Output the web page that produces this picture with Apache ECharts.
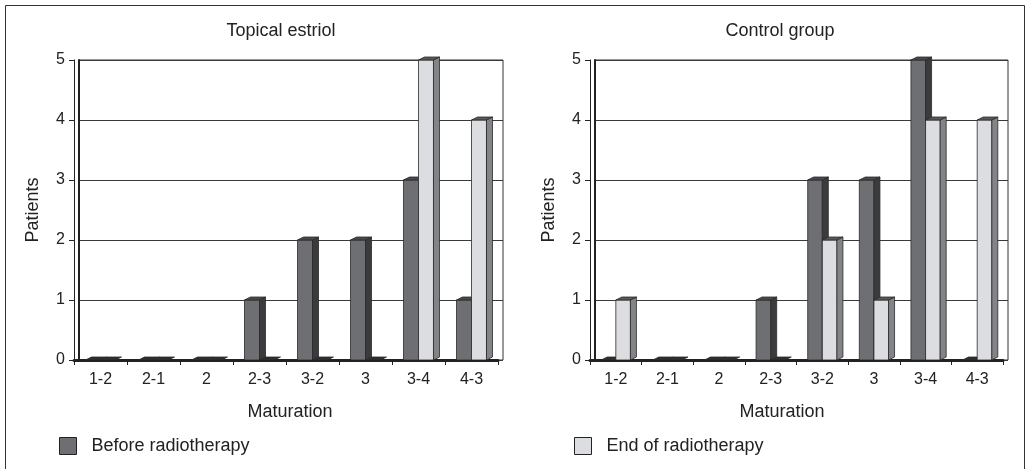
<!DOCTYPE html>
<html>
<head>
<meta charset="utf-8">
<title>Maturation before and after radiotherapy</title>
<script src="https://cdn.jsdelivr.net/npm/echarts@6/dist/echarts.min.js"></script>
<style>
  html, body { margin: 0; padding: 0; background: #fff; }
  #chart { width: 1030px; height: 469px; }
</style>
</head>
<body>
<div id="chart"></div>
<script>
// Maturation categories shared by both panels
const maturation = ['1-2', '2-1', '2', '2-3', '3-2', '3', '3-4', '4-3'];

// Topical estriol panel
const estriolBefore = [0, 0, 0, 1, 2, 2, 3, 1];
const estriolEnd    = [0, 0, 0, 0, 0, 0, 5, 4];

// Control group panel
const controlBefore = [0, 0, 0, 1, 3, 3, 5, 0];
const controlEnd    = [1, 0, 0, 0, 2, 1, 4, 4];

const yTicks = { min: 0, max: 5, interval: 1 };

const FONT = 'Liberation Sans, Arial, sans-serif';
const INK = '#222';

const BEFORE = { front: '#6e6f73', side: '#3b3b3d', top: '#4a4a4c' };
const END    = { front: '#dcdde0', side: '#838487', top: '#5a5a5c' };

// Excel-style 3D column: front face, right side face and top face
function column(colors, leftOfCenter) {
  return function (params, api) {
    const idx = api.value(0);
    const v = api.value(1);
    const p = api.coord([idx, v]);
    const base = api.coord([idx, 0]);
    const cw = api.size([1, 0])[0];
    const w = cw * 0.283;
    const dx = 6, dy = 3;
    const x0 = leftOfCenter ? p[0] - w : p[0];
    const y = p[1], y0 = base[1];
    const stroke = { stroke: '#2a2a2a', lineWidth: 0.8 };
    const children = [];
    if (v > 0) {
      children.push({
        type: 'rect',
        shape: { x: x0, y: y, width: w, height: y0 - y },
        style: Object.assign({ fill: colors.front }, stroke)
      });
      children.push({
        type: 'polygon',
        shape: { points: [[x0 + w, y], [x0 + w + dx, y - dy], [x0 + w + dx, y0 - dy], [x0 + w, y0]] },
        style: Object.assign({ fill: colors.side }, stroke)
      });
    }
    // a zero-height column shows only its flat top, which reads as part of the floor
    children.push({
      type: 'polygon',
      shape: { points: [[x0, y], [x0 + dx, y - dy], [x0 + w + dx, y - dy], [x0 + w, y]] },
      style: Object.assign({ fill: v > 0 ? colors.top : '#2e2e2e' }, stroke)
    });
    return { type: 'group', children: children };
  };
}

function pairs(values) {
  return values.map(function (v, i) { return [i, v]; });
}

// Panel geometry: front axes grid and the back wall shifted by the depth
const panels = [
  { left: 74, width: 424, before: estriolBefore, end: estriolEnd },
  { left: 590, width: 413, before: controlBefore, end: controlEnd }
];
const TOP = 60, BOTTOM = 469 - 360, DEPTH = 5;

const grid = [], xAxis = [], yAxis = [], series = [];
panels.forEach(function (pn, k) {
  // back wall
  grid.push({
    left: pn.left + DEPTH, top: TOP, width: pn.width, bottom: BOTTOM,
    show: true, borderColor: '#333', borderWidth: 1, backgroundColor: 'transparent'
  });
  xAxis.push({ gridIndex: 2 * k, type: 'value', min: 0, max: 1, show: false });
  yAxis.push({
    gridIndex: 2 * k, type: 'value', min: yTicks.min, max: yTicks.max, interval: yTicks.interval,
    axisLine: { show: true, lineStyle: { color: '#222', width: 2 } },
    axisTick: { show: false }, axisLabel: { show: false },
    splitLine: { show: true, lineStyle: { color: '#3a3a3a', width: 1 } }
  });
  // front axes
  grid.push({ left: pn.left, top: TOP, width: pn.width, bottom: BOTTOM });
  xAxis.push({
    gridIndex: 2 * k + 1, type: 'category', data: maturation, boundaryGap: true,
    axisLine: { show: true, lineStyle: { color: INK, width: 3 } },
    axisTick: { show: true, length: 5, alignWithLabel: false, lineStyle: { color: INK } },
    axisLabel: { color: INK, fontFamily: FONT, fontSize: 16, margin: 12, interval: 0 },
    splitLine: { show: false }
  });
  yAxis.push({
    gridIndex: 2 * k + 1, type: 'value', min: yTicks.min, max: yTicks.max, interval: yTicks.interval,
    name: 'Patients', nameLocation: 'middle', nameGap: 32,
    nameTextStyle: { color: INK, fontFamily: FONT, fontSize: 18 },
    axisLine: { show: true, lineStyle: { color: INK, width: 1 } },
    axisTick: { show: true, length: 5, lineStyle: { color: INK } },
    axisLabel: { color: INK, fontFamily: FONT, fontSize: 16, margin: 9 },
    splitLine: { show: false }
  });
  series.push({
    name: 'Before radiotherapy', type: 'custom',
    xAxisIndex: 2 * k + 1, yAxisIndex: 2 * k + 1,
    itemStyle: { color: BEFORE.front },
    encode: { x: 0, y: 1 },
    renderItem: column(BEFORE, true),
    data: pairs(pn.before)
  });
  series.push({
    name: 'End of radiotherapy', type: 'custom',
    xAxisIndex: 2 * k + 1, yAxisIndex: 2 * k + 1,
    itemStyle: { color: END.front },
    encode: { x: 0, y: 1 },
    renderItem: column(END, false),
    data: pairs(pn.end)
  });
});

const textStyle = { color: INK, fontFamily: FONT, fontSize: 18, fontWeight: 'normal' };

const option = {
  animation: false,
  backgroundColor: '#fff',
  title: [
    { text: 'Topical estriol', left: 281, top: 22, textAlign: 'center', padding: 0, textStyle: textStyle },
    { text: 'Control group', left: 780, top: 22, textAlign: 'center', padding: 0, textStyle: textStyle },
    { text: 'Maturation', left: 290, top: 403, textAlign: 'center', padding: 0, textStyle: textStyle },
    { text: 'Maturation', left: 782, top: 403, textAlign: 'center', padding: 0, textStyle: textStyle }
  ],
  legend: [
    {
      left: 59, top: 437, padding: 0, itemWidth: 17, itemHeight: 17, icon: 'rect',
      selectedMode: false,
      data: [{ name: 'Before radiotherapy', itemStyle: { color: BEFORE.front, borderColor: INK, borderWidth: 1 } }],
      textStyle: { color: INK, fontFamily: FONT, fontSize: 18, padding: [0, 0, 0, 10] }
    },
    {
      left: 574, top: 437, padding: 0, itemWidth: 17, itemHeight: 17, icon: 'rect',
      selectedMode: false,
      data: [{ name: 'End of radiotherapy', itemStyle: { color: END.front, borderColor: INK, borderWidth: 1 } }],
      textStyle: { color: INK, fontFamily: FONT, fontSize: 18, padding: [0, 0, 0, 10] }
    }
  ],
  graphic: [
    {
      type: 'rect', silent: true, z: -1,
      shape: { x: 5.5, y: 5.5, width: 1019, height: 490 },
      style: { fill: 'none', stroke: '#333', lineWidth: 1 }
    }
  ],
  grid: grid,
  xAxis: xAxis,
  yAxis: yAxis,
  series: series
};

const chart = echarts.init(document.getElementById('chart'), null, { renderer: 'canvas' });
chart.setOption(option);
</script>
</body>
</html>
